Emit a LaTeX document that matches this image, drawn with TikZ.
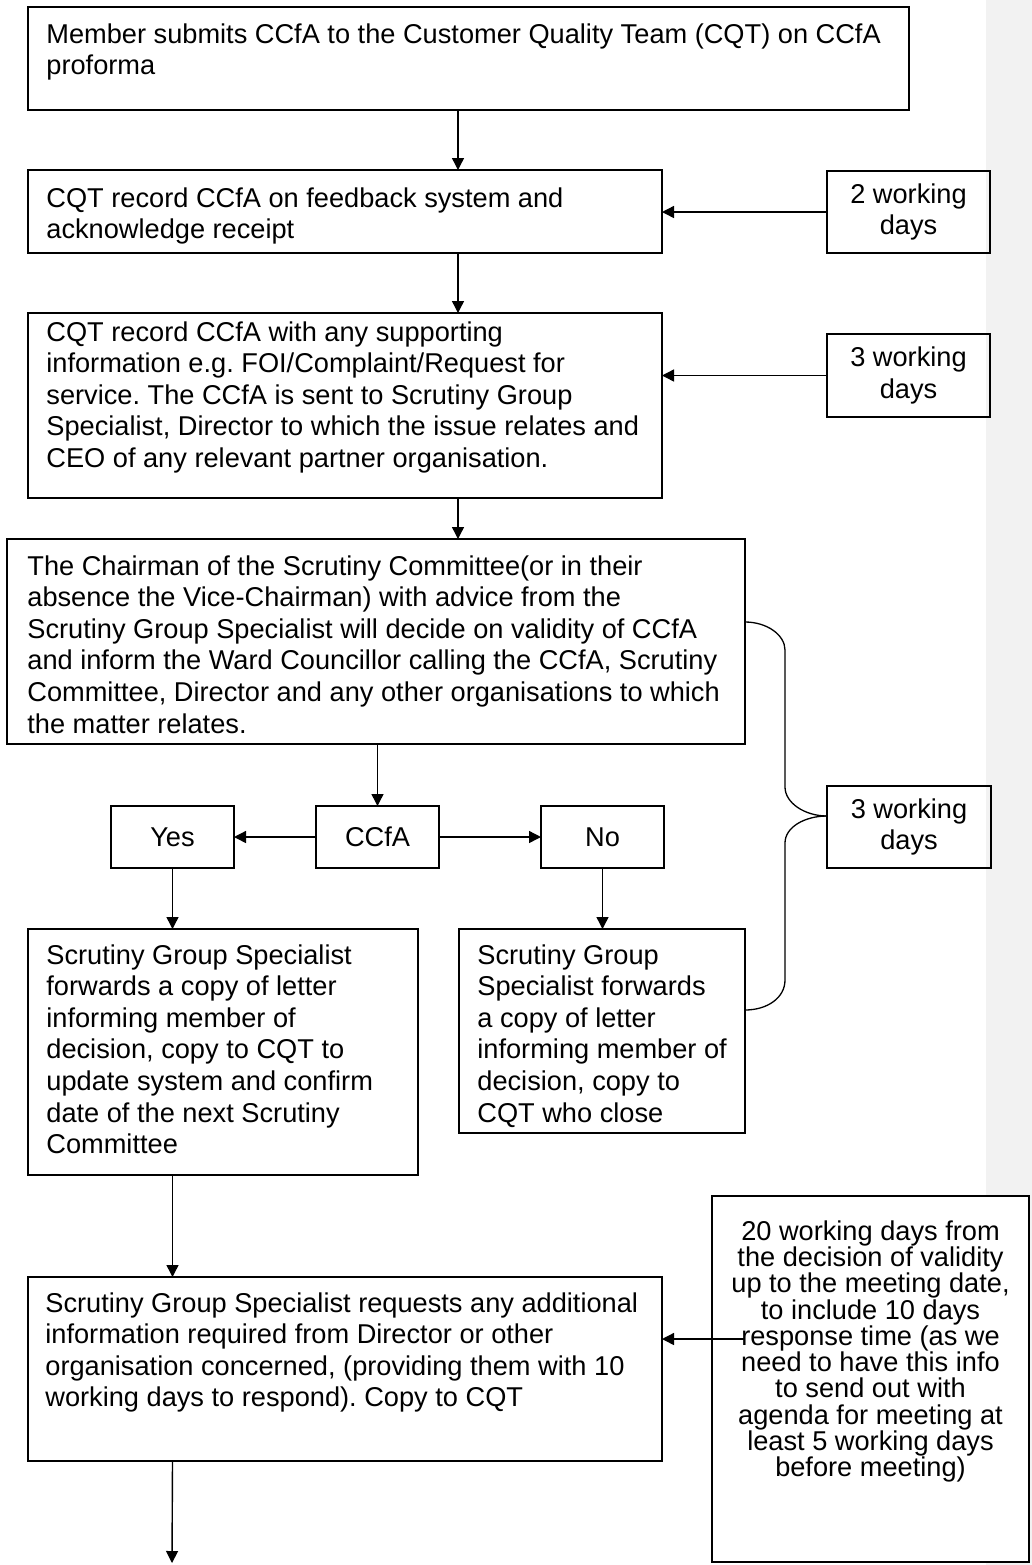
\documentclass[tikz,border=0pt]{standalone}
\usepackage{fontspec}
\setmainfont{Liberation Sans}
\usetikzlibrary{arrows.meta}
\frenchspacing
\begin{document}
\begin{tikzpicture}[x=0.5pt,y=-0.5pt,
every node/.style={font=\fontsize{13.6}{15.8}\selectfont},
box/.style={draw,line width=0.8pt,inner sep=0pt,outer sep=0pt,anchor=north west,align=center},
txt/.style={inner sep=0pt,anchor=north west,align=left},
con/.style={line width=0.7pt,-{Triangle[length=6pt,width=6pt]}}]
\useasboundingbox(0,0)rectangle(1032,1565);
\fill[black!5](986,0)rectangle(1032,1565);
% boxes
\node[box,minimum width=440.5pt,minimum height=51.5pt](b1)at(28,7){};
\node[box,minimum width=317pt,minimum height=41.5pt](b2)at(28,170){};
\node[box,minimum width=81.5pt,minimum height=41pt](d2)at(827,171){2 working\\days};
\node[box,minimum width=317pt,minimum height=92.5pt](b3)at(28,313){};
\node[box,minimum width=81.5pt,minimum height=41.5pt](d3)at(827,334){3 working\\days};
\node[box,minimum width=369pt,minimum height=102.5pt](b4)at(7,539){};
\node[box,minimum width=61.5pt,minimum height=31pt](yes)at(111,806){Yes};
\node[box,minimum width=61.5pt,minimum height=31pt](cc)at(316,806){CCfA};
\node[box,minimum width=61.5pt,minimum height=31pt](no)at(541,806){No};
\node[box,minimum width=82pt,minimum height=41pt](d3b)at(827,786){3 working\\days};
\node[box,minimum width=195pt,minimum height=123pt](b5)at(28,929){};
\node[box,minimum width=143pt,minimum height=102pt](b6)at(459,929){};
\node[box,minimum width=317pt,minimum height=92pt](b7)at(28,1277){};
\node[box,fill=white,minimum width=158.5pt,minimum height=183pt](d20)at(712,1196){};
% texts
\node[txt](t1)at([shift={(9pt,-8pt)}]b1.north west){Member submits CCfA to the Customer Quality Team (CQT) on CCfA\\proforma};
\node[txt](t2)at([shift={(9pt,-8.5pt)}]b2.north west){CQT record CCfA on feedback system and\\acknowledge receipt};
\node[txt](t3)at([shift={(9pt,-4pt)}]b3.north west){CQT record CCfA with any supporting\\information e.g. FOI/Complaint/Request for\\service. The CCfA is sent to Scrutiny Group\\Specialist, Director to which the issue relates and\\CEO of any relevant partner organisation.};
\node[txt](t4)at([shift={(10pt,-8pt)}]b4.north west){The Chairman of the Scrutiny Committee(or in their\\absence the Vice-Chairman) with advice from the\\Scrutiny Group Specialist will decide on validity of CCfA\\and inform the Ward Councillor calling the CCfA, Scrutiny\\Committee, Director and any other organisations to which\\the matter relates.};
\node[txt](t5)at([shift={(9pt,-7.5pt)}]b5.north west){Scrutiny Group Specialist\\forwards a copy of letter\\informing member of\\decision, copy to CQT to\\update system and confirm\\date of the next Scrutiny\\Committee};
\node[txt](t6)at([shift={(9pt,-7.5pt)}]b6.north west){Scrutiny Group\\Specialist forwards\\a copy of letter\\informing member of\\decision, copy to\\CQT who close};
\node[txt](t7)at([shift={(8.5pt,-7.5pt)}]b7.north west){Scrutiny Group Specialist requests any additional\\information required from Director or other\\organisation concerned, (providing them with 10\\working days to respond). Copy to CQT};
\node[inner sep=0pt,anchor=north,align=center,font=\fontsize{13.6}{13.15}\selectfont](t20)at([yshift=-12pt]d20.north){20 working days from\\the decision of validity\\up to the meeting date,\\to include 10 days\\response time (as we\\need to have this info\\to send out with\\agenda for meeting at\\least 5 working days\\before meeting)};
% connectors
\coordinate(sp)at(458,0);
\coordinate(tip)at([yshift=5.5pt]d3b.west);
\coordinate(bt)at([yshift=-41.5pt]b4.north east);
\coordinate(bb)at([yshift=-40.5pt]b6.north east);
\coordinate(t20in)at(744,1339);
\coordinate(exit)at(172,1563);
\draw[con](b1.south-|sp)--(b2.north-|sp);
\draw[con](d2.west)--(d2.west-|b2.east);
\draw[con](b2.south-|sp)--(b3.north-|sp);
\draw[con](d3.west)--(d3.west-|b3.east);
\draw[con](b3.south-|sp)--(b4.north-|sp);
\draw[con](cc.north|-b4.south)--(cc.north);
\draw[con](cc.west)--(yes.east);
\draw[con](cc.east)--(no.west);
\draw[con](yes.south)--(yes.south|-b5.north);
\draw[con](no.south)--(no.south|-b6.north);
\draw[con](yes.south|-b5.south)--(yes.south|-b7.north);
\draw[con](t20in)--(t20in-|b7.east);
\draw[con](yes.south|-b7.south)--(exit);
\draw[line width=0.65pt](bt)..controls +(22,0) and +(0,-15)..++(40,28)--++(0,137)
..controls +(0,16) and +(-22,0)..(tip);
\draw[line width=0.65pt](tip)..controls +(-22,0) and +(0,-16)..++(-42,27)--++(0,137)
..controls +(0,18) and +(22,0)..(bb);
\end{tikzpicture}
\end{document}
